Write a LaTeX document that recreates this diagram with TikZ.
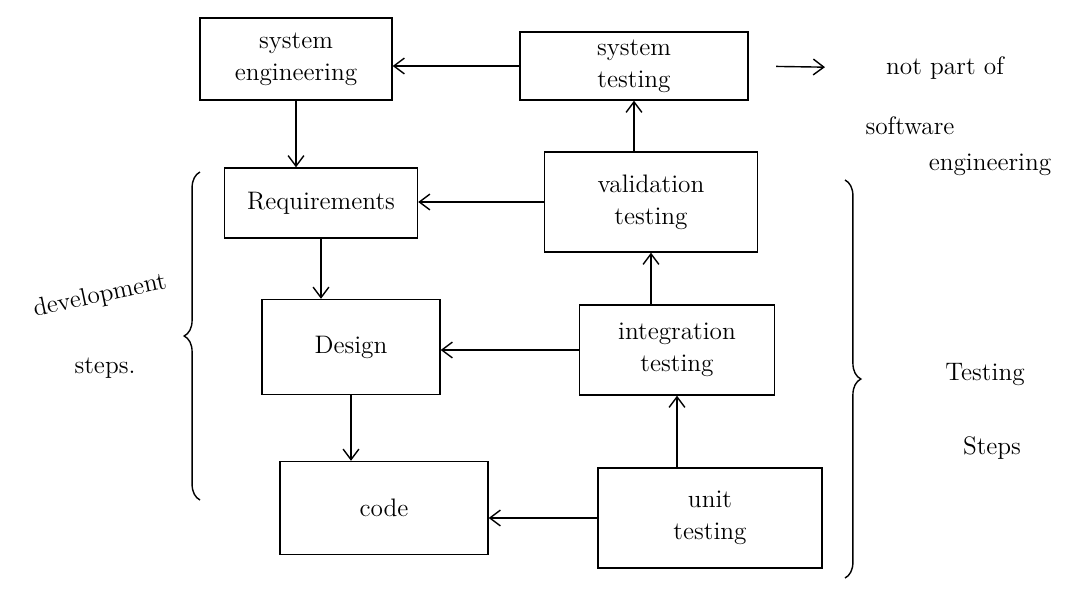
\documentclass[tikz,border=0pt]{standalone}
\usepackage{amsmath}
\usepackage{tikz}
\usetikzlibrary{arrows.meta}
\usetikzlibrary{decorations.pathreplacing}
\usetikzlibrary{positioning}

\begin{document}
\begin{tikzpicture}[x=0.02cm, y=-0.02cm,
    box/.style={rectangle, draw=black, thick, align=center, font=\Large},
    flow/.style={-{Straight Barb[length=6pt, width=9pt]}, thick},
    note/.style={align=center, font=\Large},
    curly/.style={decorate, decoration={brace, amplitude=9pt}, thick}]
    \useasboundingbox (0,0) rectangle (1091,592);

    % development side
    \node[box, minimum width=3.84cm, minimum height=1.64cm] (sysEng) at (296,59) {system\\engineering};
    \node[box, minimum width=3.86cm, minimum height=1.4cm] (req) at (321,203) {Requirements};
    \node[box, minimum width=3.56cm, minimum height=1.9cm] (design) at (351,347) {Design};
    \node[box, minimum width=4.16cm, minimum height=1.86cm] (code) at (384,508) {code};

    % testing side
    \node[box, minimum width=4.56cm, minimum height=1.36cm] (sysTest) at (634,66) {system\\testing};
    \node[box, minimum width=4.26cm, minimum height=2cm] (valid) at (651,202) {validation\\testing};
    \node[box, minimum width=3.9cm, minimum height=1.8cm] (integ) at (677,350) {integration\\testing};
    \node[box, minimum width=4.48cm, minimum height=2cm] (unit) at (710,518) {unit\\testing};

    \draw[flow] (sysEng.south) -- (sysEng.south |- req.north);
    \draw[flow] (req.south) -- (req.south |- design.north);
    \draw[flow] (design.south) -- (design.south |- code.north);

    \draw[flow] (sysTest.west) -- (sysTest.west -| sysEng.east);
    \draw[flow] (valid.west) -- (valid.west -| req.east);
    \draw[flow] (integ.west) -- (integ.west -| design.east);
    \draw[flow] (unit.west) -- (unit.west -| code.east);

    \draw[flow] (integ.south |- unit.north) -- (integ.south);
    \draw[flow] (valid.south |- integ.north) -- (valid.south);
    \draw[flow] (sysTest.south |- valid.north) -- (sysTest.south);

    % side notes
    \node[note] (notPart) at (945,68) {not part of};
    \node[note] (soft) at (910,126) {software};
    \node[note] (engg) at (990,165) {engineering};
    \draw[flow, shorten <=0.55cm, shorten >=1.1cm] (sysTest.east) -- (notPart.west);

    \coordinate (devTop) at (200,172);
    \coordinate (devBot) at (200,500);
    \draw[curly] (devBot) -- (devTop);
    \node[note, rotate=12] (devWord) at (100,296) {development};
    \node[note] (devSteps) at (105,368) {steps.};

    \coordinate (testTop) at (845,180);
    \coordinate (testBot) at (845,578);
    \draw[curly] (testTop) -- (testBot);
    \node[note] (testWord) at (985,375) {Testing};
    \node[note] (testSteps) at (992,448) {Steps};
\end{tikzpicture}
\end{document}
